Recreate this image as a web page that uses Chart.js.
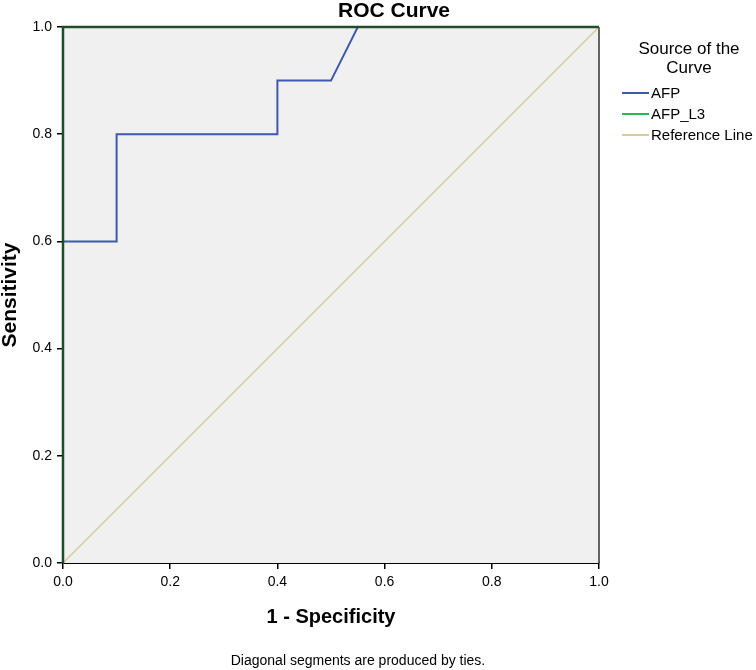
<!DOCTYPE html>
<html>
<head>
<meta charset="utf-8">
<script src="https://cdn.jsdelivr.net/npm/chart.js@4.4.1/dist/chart.umd.min.js"></script>
<style>
html,body{margin:0;padding:0;background:#fff;}
#wrap{width:756px;height:670px;position:relative;}
</style>
</head>
<body>
<div id="wrap"><canvas id="c" width="756" height="670"></canvas></div>
<script>
// ---- data ----
const chartTitle = 'ROC Curve';
const xAxisTitle = '1 - Specificity';
const yAxisTitle = 'Sensitivity';
const footnote = 'Diagonal segments are produced by ties.';
const legendTitle = ['Source of the', 'Curve'];
const seriesNames = ['AFP', 'AFP_L3', 'Reference Line'];
const afpX = [0, 0, 0.1, 0.1, 0.4, 0.4, 0.5, 0.55, 1.0];
const afpY = [0, 0.6, 0.6, 0.8, 0.8, 0.9, 0.9, 1.0, 1.0];
const afpL3X = [0, 0, 1];
const afpL3Y = [0, 1, 1];
const refX = [0, 1];
const refY = [0, 1];
const tickValues = [0, 0.2, 0.4, 0.6, 0.8, 1.0];
const seriesColors = ['#3e58ac', '#2eb848', '#d3ce97'];
const plotLineColors = ['#3e58ac', '#1f4d27', '#d3ce97'];

const FONT = '"Liberation Sans", Arial, sans-serif';
const toPts = (xs, ys) => xs.map((x, i) => ({x: x, y: ys[i]}));

const decor = {
  id: 'decor',
  beforeDatasetsDraw(chart) {
    const {ctx, chartArea: a} = chart;
    ctx.save();
    ctx.fillStyle = '#f0f0f0';
    ctx.fillRect(a.left, a.top, a.right - a.left, a.bottom - a.top);
    ctx.strokeStyle = '#333';
    ctx.lineWidth = 1.5;
    ctx.beginPath();
    ctx.moveTo(a.right, a.top); ctx.lineTo(a.right, a.bottom);
    ctx.stroke();
    ctx.restore();
  },
  afterDraw(chart) {
    const {ctx} = chart;
    ctx.save();
    ctx.fillStyle = '#000';
    ctx.textBaseline = 'alphabetic';
    // title
    ctx.font = 'bold 21px ' + FONT;
    ctx.textAlign = 'center';
    ctx.fillText(chartTitle, 394, 17);
    // legend
    ctx.font = '17px ' + FONT;
    ctx.fillText(legendTitle[0], 689, 54);
    ctx.fillText(legendTitle[1], 689, 73);
    ctx.font = '15px ' + FONT;
    ctx.textAlign = 'left';
    const baseY = [98, 119, 140];
    chart.data.datasets.forEach((ds, i) => {
      const y = baseY[i] - 5;
      ctx.strokeStyle = seriesColors[i];
      ctx.lineWidth = 2;
      ctx.beginPath(); ctx.moveTo(622, y); ctx.lineTo(649, y); ctx.stroke();
      ctx.fillStyle = '#000';
      ctx.fillText(ds.label, 651, baseY[i]);
    });
    // footnote
    ctx.font = '14px ' + FONT;
    ctx.textAlign = 'center';
    ctx.fillText(footnote, 358, 665);
    ctx.restore();
  }
};

new Chart(document.getElementById('c'), {
  type: 'scatter',
  data: {
    datasets: [
      {label: seriesNames[0], data: toPts(afpX, afpY), borderColor: plotLineColors[0], borderWidth: 2, order: 1},
      {label: seriesNames[1], data: toPts(afpL3X, afpL3Y), borderColor: plotLineColors[1], borderWidth: 2.5, order: 0},
      {label: seriesNames[2], data: toPts(refX, refY), borderColor: plotLineColors[2], borderWidth: 1.5, order: 2}
    ].map(d => Object.assign(d, {showLine: true, pointRadius: 0, pointHoverRadius: 0, fill: false, tension: 0, clip: 4, backgroundColor: d.borderColor}))
  },
  plugins: [decor],
  options: {
    responsive: false,
    animation: false,
    devicePixelRatio: 1,
    layout: {padding: {top: 27, right: 157, left: 0, bottom: 0}},
    plugins: {legend: {display: false}, tooltip: {enabled: false}, title: {display: false}},
    scales: {
      x: {
        type: 'linear', min: 0, max: 1,
        afterBuildTicks: s => { s.ticks = tickValues.map(v => ({value: v})); },
        afterFit: s => { s.height = 107; },
        ticks: {callback: v => Number(v).toFixed(1), color: '#000', padding: 5, font: {family: FONT, size: 14}, maxRotation: 0},
        grid: {drawOnChartArea: false, drawTicks: true, tickLength: 6, color: '#000', lineWidth: 1.5},
        border: {display: true, color: '#000', width: 2},
        title: {display: true, text: xAxisTitle, color: '#000', font: {family: FONT, size: 20, weight: 'bold', lineHeight: 1}, padding: {top: 0, bottom: 43}}
      },
      y: {
        type: 'linear', min: 0, max: 1,
        afterBuildTicks: s => { s.ticks = tickValues.map(v => ({value: v})); },
        afterFit: s => { s.width = 63; },
        ticks: {callback: v => Number(v).toFixed(1), color: '#000', padding: 5, font: {family: FONT, size: 14}},
        grid: {drawOnChartArea: false, drawTicks: true, tickLength: 6, color: '#000', lineWidth: 1.5},
        border: {display: true, color: '#000', width: 2},
        title: {display: true, text: yAxisTitle, color: '#000', font: {family: FONT, size: 21, weight: 'bold', lineHeight: 1}, padding: 0}
      }
    }
  }
});
</script>
</body>
</html>
